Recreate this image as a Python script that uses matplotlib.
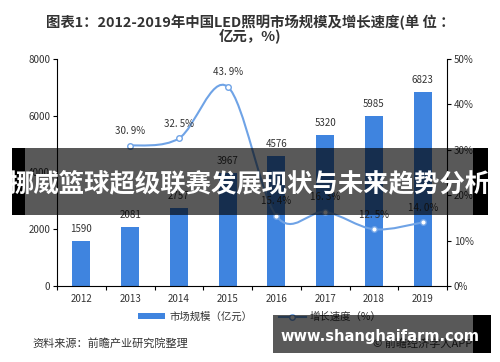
import matplotlib
matplotlib.use("Agg")
import matplotlib.pyplot as plt
from matplotlib.path import Path
from matplotlib.patches import PathPatch, Rectangle
from matplotlib.lines import Line2D
from matplotlib.patches import Patch

plt.rcParams['font.family'] = ['Noto Sans CJK SC', 'DejaVu Sans']

years = ['2012', '2013', '2014', '2015', '2016', '2017', '2018', '2019']
market = [1590, 2081, 2757, 3967, 4576, 5320, 5985, 6823]
growth_years = ['2013', '2014', '2015', '2016', '2017', '2018', '2019']
growth = [30.9, 32.5, 43.9, 15.4, 16.3, 12.5, 14.0]
growth_labels = ['30. 9%', '32. 5%', '43. 9%', '15. 4%', '16. 3%', '12. 5%', '14. 0%']
left_ticks = [0, 2000, 4000, 6000, 8000]
right_ticks = [0, 10, 20, 30, 40, 50]

bar_color = '#3F84DF'
line_color = '#6FA3E6'
text_color = '#333333'

fig = plt.figure(figsize=(5, 3.62), dpi=100)
ax = fig.add_axes([0.114, 0.21, 0.78, 0.627])
ax2 = ax.twinx()

x = list(range(len(years)))
ax.bar(x, market, width=0.37, color=bar_color, zorder=2)
for xi, v in zip(x, market):
    ax.annotate(str(v), (xi, v), xytext=(0, 5), textcoords='offset points',
                ha='center', va='bottom', fontsize=7, color=text_color)

ax.set_xlim(-0.5, len(years) - 0.5)
ax.set_ylim(0, 8000)
ax.set_yticks(left_ticks)
ax.set_yticklabels([str(t) for t in left_ticks], fontsize=7, color=text_color)
ax.set_xticks(x)
ax.set_xticklabels(years, fontsize=7, color=text_color)
ax.set_xticks([i + 0.5 for i in range(-1, len(years))], minor=True)
ax.tick_params(axis='x', which='major', length=0, pad=6)
ax.tick_params(axis='x', which='minor', length=3, width=0.8, direction='out')
ax.tick_params(axis='y', length=3, width=0.8, pad=2)

for s in ['top', 'right']:
    ax.spines[s].set_visible(False)
for s in ['top', 'left', 'bottom']:
    ax2.spines[s].set_visible(False)
ax.spines['left'].set_linewidth(0.8)
ax.spines['bottom'].set_linewidth(0.8)
ax2.spines['right'].set_linewidth(0.8)

ax2.set_ylim(0, 50)
ax2.set_yticks(right_ticks)
ax2.set_yticklabels([f'{t}%' for t in right_ticks], fontsize=7, color=text_color)
ax2.tick_params(axis='y', length=3, width=0.8, pad=2)

# smooth growth curve (Catmull-Rom to Bezier path)
gx = [years.index(y) for y in growth_years]
pts = list(zip(gx, growth))
verts = [pts[0]]
codes = [Path.MOVETO]
n = len(pts)
for i in range(n - 1):
    p0 = pts[i - 1] if i > 0 else pts[i]
    p1 = pts[i]
    p2 = pts[i + 1]
    p3 = pts[i + 2] if i + 2 < n else pts[i + 1]
    c1 = (p1[0] + (p2[0] - p0[0]) / 6, p1[1] + (p2[1] - p0[1]) / 6)
    c2 = (p2[0] - (p3[0] - p1[0]) / 6, p2[1] - (p3[1] - p1[1]) / 6)
    verts += [c1, c2, p2]
    codes += [Path.CURVE4] * 3
ax2.add_patch(PathPatch(Path(verts, codes), facecolor='none', edgecolor=line_color,
                        lw=1.5, zorder=3))
ax2.plot(gx, growth, linestyle='none', marker='o', markersize=4,
         markerfacecolor='white', markeredgecolor=line_color, markeredgewidth=1, zorder=4)
for xi, v, lab in zip(gx, growth, growth_labels):
    ax2.annotate(lab, (xi, v), xytext=(0, 7), textcoords='offset points',
                 ha='center', va='bottom', fontsize=7, color=text_color)

# title
fig.text(0.5, 0.96, '图表1：2012-2019年中国LED照明市场规模及增长速度(单 位 ：\n亿元，%)',
         ha='center', va='top', fontsize=10.4, fontweight='bold', color=text_color,
         linespacing=0.9)

# legend
handles = [Patch(facecolor=bar_color, edgecolor='none'),
           Line2D([0], [0], color=line_color, lw=1.5, marker='o', markersize=4,
                  markerfacecolor='white', markeredgecolor=line_color)]
fig.legend(handles, ['市场规模（亿元）', '增长速度（%）'], ncol=2, loc='center',
           bbox_to_anchor=(0.52, 0.125), frameon=False, fontsize=7.5,
           handlelength=2.6, handleheight=0.5, columnspacing=2.5, handletextpad=0.4,
           labelcolor=text_color)

# source
fig.text(0.064, 0.052, '资料来源：前瞻产业研究院整理', ha='left', va='center',
         fontsize=8, color=text_color)
fig.text(0.945, 0.052, '© 前瞻经济学人APP', ha='right', va='center',
         fontsize=8, color=text_color)

# overlay banner
fig.patches.append(Rectangle((12 / 500, 1 - 215 / 362), 476 / 500, 67 / 362,
                             transform=fig.transFigure, facecolor='black', alpha=0.65,
                             edgecolor='none', zorder=10))
fig.patches.append(Rectangle((12 / 500, 1 - 215 / 362), 13 / 500, 67 / 362,
                             transform=fig.transFigure, facecolor='black',
                             edgecolor='none', zorder=11))
fig.patches.append(Rectangle((473 / 500, 1 - 215 / 362), 15 / 500, 67 / 362,
                             transform=fig.transFigure, facecolor='black',
                             edgecolor='none', zorder=11))
fig.text(0.5, 1 - 184 / 362, '挪威篮球超级联赛发展现状与未来趋势分析', ha='center',
         va='center', fontsize=18.3, fontweight='bold', color='white', zorder=12)

# bottom watermark box
fig.patches.append(Rectangle((273 / 500, 1 - 353 / 362), 218 / 500, 38 / 362,
                             transform=fig.transFigure, facecolor='black', alpha=0.65,
                             edgecolor='none', zorder=10))
fig.patches.append(Rectangle((473 / 500, 1 - 353 / 362), 18 / 500, 38 / 362,
                             transform=fig.transFigure, facecolor='black',
                             edgecolor='none', zorder=11))
fig.text(380 / 500, 1 - 336 / 362, 'www.shanghaifarm.com', ha='center', va='center',
         fontsize=10.5, fontweight='bold', color='white', family='DejaVu Sans', zorder=12)

fig.savefig('out.png', dpi=100)
